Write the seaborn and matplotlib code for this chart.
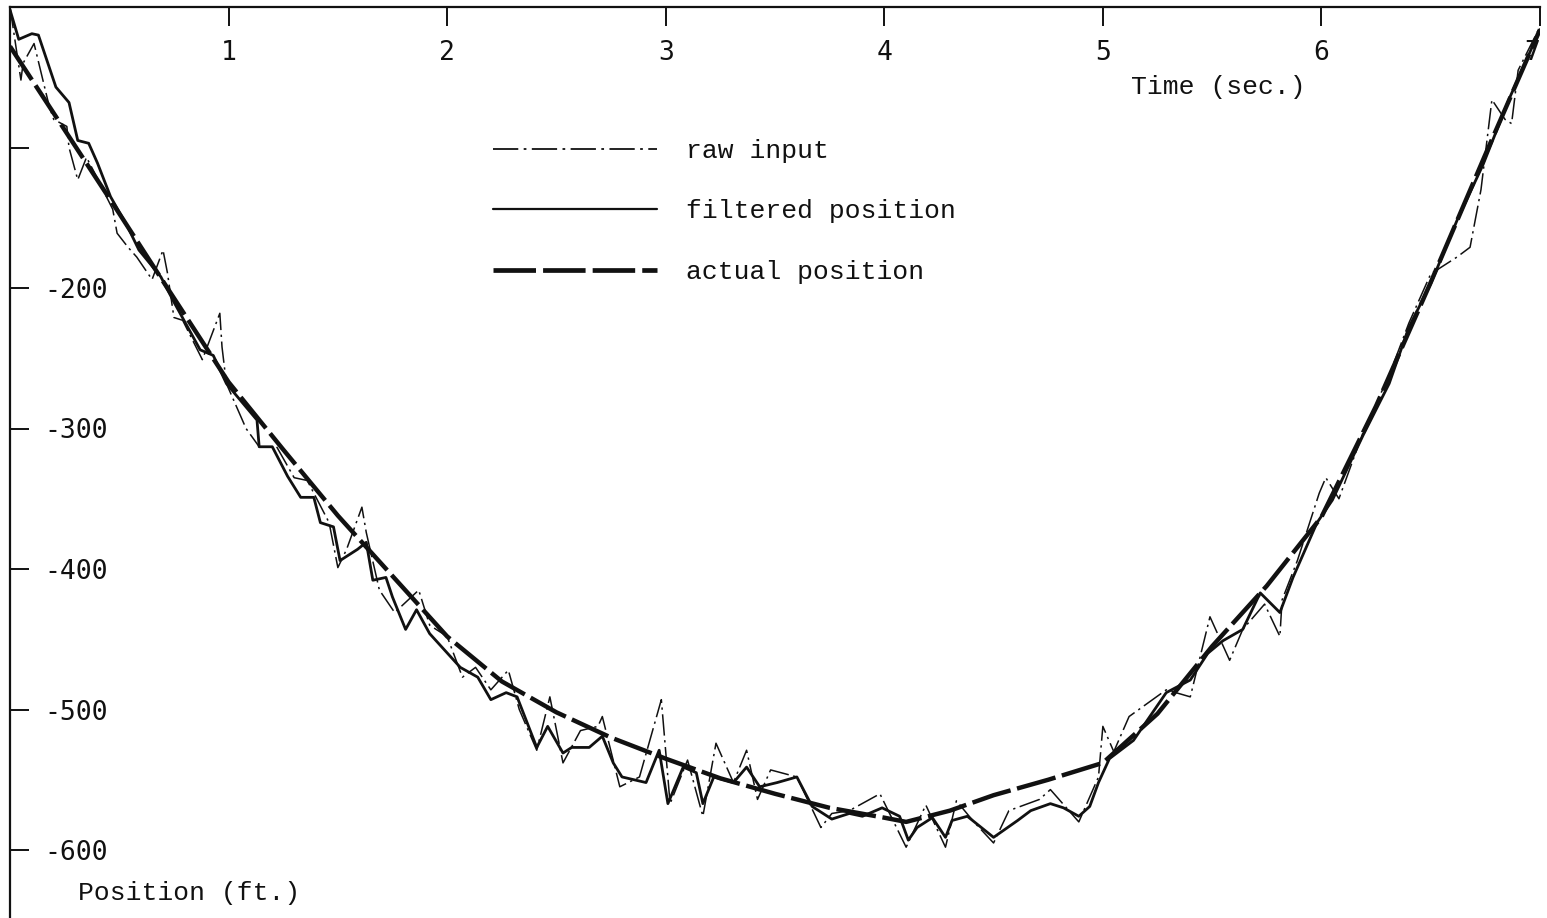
import numpy as np
import pandas as pd
import matplotlib
matplotlib.use("Agg")
import matplotlib.pyplot as plt
from matplotlib.lines import Line2D
import seaborn as sns

# ---------------- data ----------------
actual_t = [0.0, 0.5, 0.72, 1.0, 1.25, 1.5, 1.75, 2.0, 2.25, 2.5, 2.75, 3.0, 3.25,
            3.5, 3.75, 4.0, 4.1, 4.3, 4.5, 4.75, 5.0, 5.25, 5.5, 5.75, 6.0, 6.25,
            6.5, 6.75, 7.0]
actual_pos = [-28, -147, -200, -267, -315, -362, -405, -448, -480, -502, -520, -535, -549,
              -560, -570, -577, -580, -572, -561, -550, -538, -503, -455, -412, -363, -284,
              -196, -105, -16]

filt_t = [0.0, 0.04, 0.10, 0.13, 0.21, 0.27, 0.31, 0.36, 0.40, 0.46, 0.54, 0.59, 0.69,
          0.75, 0.87, 0.93, 0.99, 1.13, 1.14, 1.20, 1.27, 1.33, 1.39, 1.42, 1.48, 1.51,
          1.59, 1.63, 1.66, 1.72, 1.75, 1.81, 1.86, 1.92, 2.06, 2.14, 2.20, 2.27, 2.32,
          2.41, 2.46, 2.53, 2.57, 2.65, 2.71, 2.76, 2.80, 2.91, 2.97, 3.01, 3.08, 3.14,
          3.17, 3.22, 3.31, 3.37, 3.43, 3.51, 3.60, 3.67, 3.76, 3.84, 3.90, 3.99, 4.07,
          4.11, 4.15, 4.22, 4.28, 4.31, 4.38, 4.50, 4.61, 4.67, 4.76, 4.82, 4.89, 4.94,
          4.98, 5.03, 5.14, 5.29, 5.40, 5.48, 5.55, 5.64, 5.72, 5.81, 5.87, 5.98, 6.05,
          6.19, 6.31, 6.40, 6.50, 6.62, 6.74, 6.86, 7.0]
filt_pos = [-2, -23, -19, -20, -57, -68, -95, -97, -111, -135, -157, -173, -192,
            -210, -244, -248, -268, -294, -313, -313, -334, -349, -349, -367, -370, -394,
            -386, -381, -408, -406, -420, -443, -429, -446, -470, -477, -493, -488, -491,
            -527, -512, -531, -527, -527, -519, -538, -548, -552, -529, -567, -541, -545,
            -567, -548, -552, -541, -555, -552, -548, -569, -578, -574, -576, -570, -576,
            -593, -584, -577, -591, -579, -576, -591, -579, -572, -567, -570, -576, -569,
            -552, -535, -522, -488, -479, -460, -451, -443, -417, -431, -406, -367, -351,
            -305, -268, -228, -197, -152, -112, -65, -16]

raw_t = [0.0, 0.05, 0.06, 0.11, 0.18, 0.20, 0.26, 0.27, 0.31, 0.35, 0.38, 0.47, 0.49,
         0.54, 0.58, 0.65, 0.70, 0.72, 0.75, 0.79, 0.88, 0.96, 0.97, 0.99, 1.08, 1.14,
         1.22, 1.30, 1.36, 1.46, 1.50, 1.54, 1.61, 1.63, 1.69, 1.76, 1.87, 1.92, 2.00,
         2.07, 2.13, 2.20, 2.28, 2.33, 2.41, 2.47, 2.53, 2.61, 2.69, 2.71, 2.79, 2.88,
         2.98, 3.02, 3.10, 3.17, 3.23, 3.31, 3.37, 3.42, 3.48, 3.60, 3.71, 3.76, 3.84,
         3.98, 4.10, 4.19, 4.28, 4.33, 4.41, 4.50, 4.57, 4.71, 4.76, 4.89, 4.98, 5.00,
         5.05, 5.12, 5.29, 5.40, 5.49, 5.58, 5.64, 5.74, 5.81, 5.82, 5.89, 5.99, 6.02,
         6.08, 6.19, 6.31, 6.40, 6.50, 6.62, 6.68, 6.73, 6.78, 6.84, 6.87, 6.90, 7.0]
raw_pos = [0, -52, -40, -26, -71, -80, -85, -100, -123, -107, -116, -144, -161,
           -171, -178, -194, -173, -189, -221, -223, -251, -218, -242, -268, -300, -313,
           -313, -335, -337, -367, -399, -386, -356, -374, -415, -431, -415, -440, -448,
           -477, -470, -486, -472, -500, -529, -491, -538, -515, -512, -505, -555, -548,
           -493, -567, -536, -576, -524, -552, -529, -564, -543, -548, -584, -574, -572,
           -560, -598, -568, -598, -565, -580, -595, -572, -564, -557, -580, -548, -512,
           -530, -505, -486, -491, -434, -465, -443, -425, -448, -422, -394, -346, -335,
           -350, -303, -262, -225, -190, -178, -171, -130, -66, -80, -83, -45, -14]

x_ticks = [1, 2, 3, 4, 5, 6, 7]
x_ticklabels = ["1", "2", "3", "4", "5", "6", "7"]
y_ticks = [-100, -200, -300, -400, -500, -600]
y_ticklabels = ["", "-200", "-300", "-400", "-500", "-600"]

legend_labels = ["raw input", "filtered position", "actual position"]

# ---------------- plotting ----------------
sns.set_style("white")
plt.rcParams["font.family"] = ["Liberation Mono", "DejaVu Sans Mono"]
plt.rcParams["axes.unicode_minus"] = False

W, H = 1547, 918
fig = plt.figure(figsize=(W / 100, H / 100), dpi=100)
ax = fig.add_axes([10 / W, 0, 1530 / W, 1 - 7 / H])

raw_df = pd.DataFrame({"t": raw_t, "pos": raw_pos})
filt_df = pd.DataFrame({"t": filt_t, "pos": filt_pos})
act_df = pd.DataFrame({"t": actual_t, "pos": actual_pos})

ink = "#111111"
sns.lineplot(data=raw_df, x="t", y="pos", ax=ax, color=ink, lw=1.1,
             estimator=None, sort=False)
ax.lines[-1].set_dashes([14, 3, 1.5, 3])
sns.lineplot(data=filt_df, x="t", y="pos", ax=ax, color=ink, lw=2.0,
             estimator=None, sort=False)
sns.lineplot(data=act_df, x="t", y="pos", ax=ax, color=ink, lw=3.2,
             estimator=None, sort=False)
ax.lines[-1].set_dashes([9, 1.5])

ax.set_xlim(0, 7)
ax.set_ylim(-(H - 7) / 1.405, 0)
ax.set_xlabel("")
ax.set_ylabel("")

for s in ["right", "bottom"]:
    ax.spines[s].set_visible(False)
for s in ["left", "top"]:
    ax.spines[s].set_color(ink)
    ax.spines[s].set_linewidth(1.6)

ax.xaxis.tick_top()
ax.set_xticks(x_ticks)
ax.set_xticklabels(x_ticklabels, fontsize=19, family="DejaVu Sans Mono")
ax.set_yticks(y_ticks)
ax.set_yticklabels(y_ticklabels, fontsize=19, family="DejaVu Sans Mono")
ax.tick_params(axis="x", which="major", top=True, bottom=False, direction="in",
               length=14, width=1.4, color=ink, pad=-24, labelcolor=ink)
ax.tick_params(axis="y", which="major", left=True, right=False, direction="in",
               length=14, width=1.4, color=ink, pad=-25, labelcolor=ink)
for lbl in ax.get_xticklabels():
    lbl.set_va("top")
ax.get_xticklabels()[-1].set_ha("right")
for lbl in ax.get_yticklabels():
    lbl.set_ha("left")

fig.text(1131 / W, 1 - 87 / H, "Time (sec.)", fontsize=19, color=ink,
         ha="left", va="center")
fig.text(78 / W, 1 - 893 / H, "Position (ft.)", fontsize=19, color=ink,
         ha="left", va="center")

h_raw = Line2D([], [], color=ink, lw=1.3, dashes=[14, 3, 1.5, 3])
h_filt = Line2D([], [], color=ink, lw=1.6)
h_act = Line2D([], [], color=ink, lw=3.4, dashes=[9, 1.5])
leg = ax.legend([h_raw, h_filt, h_act], legend_labels, loc="upper left",
                bbox_to_anchor=(493 / W, 1 - 139 / H), bbox_transform=fig.transFigure,
                frameon=False, fontsize=19, handlelength=6.2, handletextpad=1.1,
                labelspacing=1.38, borderpad=0, borderaxespad=0)
for t in leg.get_texts():
    t.set_color(ink)

fig.savefig("out.png", dpi=100, facecolor="white")
